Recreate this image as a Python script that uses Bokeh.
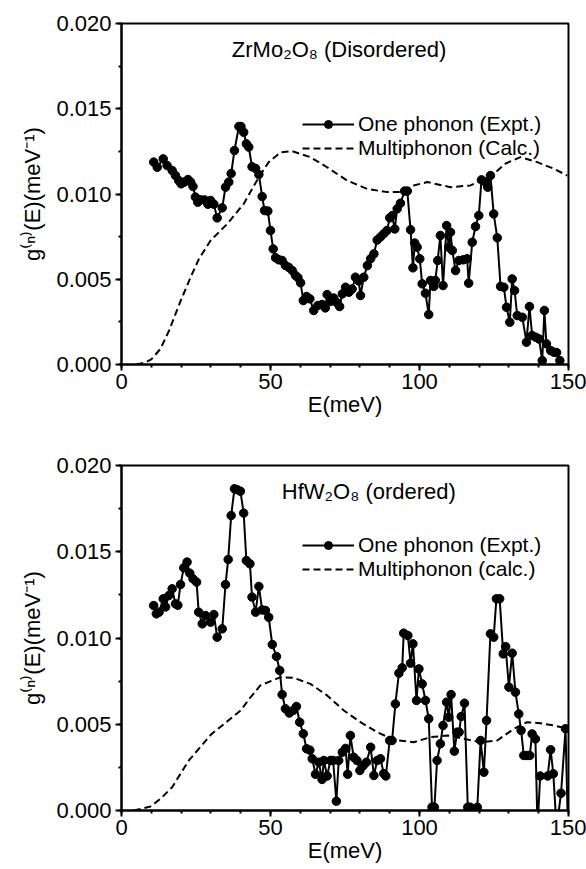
from bokeh.plotting import figure
from bokeh.models import (ColumnDataSource, Range1d, SingleIntervalTicker, NumeralTickFormatter,
                          Legend, LegendItem, Label)
from bokeh.layouts import column
from bokeh.embed import file_html
from bokeh.resources import INLINE

# ---------------- data (g in units of 1e-3 meV^-1) ----------------
top_one_E = [10.8, 12.0, 14.0, 15.3, 17.0, 18.1, 19.2, 20.0, 21.1, 22.3, 23.2, 24.0, 24.8, 25.6, 26.5, 27.9,
             29.0, 29.9, 31.0, 32.1, 33.8, 34.9, 36.0, 36.8, 37.9, 39.4, 40.1, 41.0, 41.9, 42.7, 43.8, 45.0,
             46.1, 47.2, 48.0, 49.1, 50.0, 50.9, 51.7, 52.8, 53.9, 55.0, 56.1, 57.3, 58.4, 59.2, 60.1, 61.0,
             62.1, 63.2, 64.5, 65.9, 67.3, 68.4, 69.0, 70.1, 71.2, 72.3, 73.2, 74.1, 75.2, 76.3, 77.4, 78.5,
             79.6, 80.2, 81.3, 82.5, 83.6, 84.7, 85.8, 86.9, 88.0, 89.1, 90.0, 90.8, 91.7, 92.5, 93.6, 95.0,
             95.9, 97.0, 97.8, 98.4, 99.2, 100.1, 100.9, 102.0, 103.1, 103.7, 104.8, 105.3, 106.1, 107.0, 107.9,
             109.1, 109.8, 110.4, 111.0, 112.1, 113.2, 114.7, 116.0, 116.5, 117.7, 118.8, 119.9, 120.8, 122.1,
             122.9, 123.8, 124.9, 126.1, 127.2, 128.3, 129.2, 130.3, 131.1, 131.9, 132.8, 134.5, 135.9, 136.9,
             137.8, 139.0, 140.1, 141.2, 141.9, 142.6, 144.0, 145.1, 146.0, 147.1]
top_one_g = [11.87, 11.57, 12.06, 11.67, 11.38, 11.09, 10.79, 10.6, 10.7, 10.85, 10.7, 10.44, 9.82, 9.52, 9.66, 9.65,
             9.4, 9.62, 9.4, 8.6, 9.19, 10.4, 10.7, 11.2, 12.55, 13.96, 13.96, 13.62, 12.94, 12.75, 11.6, 11.5,
             11.14, 9.85, 9.03, 9.0, 7.86, 6.78, 6.26, 6.14, 6.1, 5.81, 5.7, 5.51, 5.22, 5.1, 4.79, 3.75,
             3.99, 3.85, 3.17, 3.46, 3.52, 3.32, 4.1, 3.7, 3.9, 3.62, 3.4, 4.14, 4.53, 4.24, 4.43, 5.12,
             4.9, 4.05, 5.12, 5.8, 6.2, 6.49, 7.3, 7.48, 7.67, 7.86, 8.6, 8.73, 7.95, 9.13, 9.46, 10.17,
             10.17, 7.9, 5.67, 7.12, 6.88, 6.2, 4.73, 4.18, 2.93, 4.93, 4.58, 4.93, 6.1, 7.57, 4.63,
             8.15, 6.88, 7.76, 6.69, 5.51, 6.1, 6.14, 6.2, 4.77, 7.17, 8.09, 8.74, 10.83, 10.7,
             10.4, 11.08, 8.83, 7.43, 4.58, 4.53, 3.36, 2.48, 5.02, 4.34, 2.87, 2.77, 1.31, 3.4,
             1.7, 1.6, 1.5, 0.23, 3.17, 1.21, 0.82, 0.72, 0.7, 0.23]

top_multi_E = [5.0, 8.0, 10.0, 13.0, 16.0, 20.0, 23.2, 26.0, 29.9, 35.5, 41.0, 46.1, 49.4, 53.4, 57.3, 63.4,
               69.0, 75.7, 82.4, 89.2, 93.6, 98.1, 102.6, 110.4, 117.1, 120.5, 124.9, 129.0, 133.9, 139.5,
               145.1, 149.6]
top_multi_g = [0.0, 0.12, 0.3, 0.9, 2.0, 3.8, 5.12, 6.2, 7.27, 8.25, 9.42, 10.99, 11.87, 12.45, 12.51, 12.16,
               11.57, 10.79, 10.3, 10.11, 10.11, 10.5, 10.7, 10.4, 10.5, 10.79, 11.18, 11.8, 12.16, 11.87,
               11.48, 11.08]

bot_one_E = [10.8, 11.7, 12.6, 14.0, 14.8, 15.9, 17.0, 18.1, 18.9, 19.8, 20.9, 22.0, 22.9, 24.0, 25.2, 25.9,
             27.1, 28.2, 29.9, 31.0, 32.1, 33.8, 34.9, 35.8, 36.8, 37.9, 38.8, 39.9, 41.0, 41.9, 43.1, 43.8,
             45.0, 46.1, 47.2, 48.3, 49.4, 50.6, 52.0, 53.1, 53.9, 55.0, 56.3, 57.6, 58.7, 59.8, 61.0, 62.1,
             63.2, 64.0, 65.1, 66.2, 67.3, 67.9, 69.0, 70.1, 71.0, 72.1, 72.9, 74.1, 75.2, 75.9, 76.8, 77.9,
             79.0, 80.0, 81.1, 82.2, 83.6, 84.7, 85.8, 86.9, 88.0, 88.7, 90.0, 90.8, 91.9, 93.1, 94.2, 94.7,
             96.1, 97.0, 97.8, 99.0, 99.8, 100.9, 102.0, 103.1, 104.2, 105.0, 105.9, 107.0, 107.9, 109.1, 109.8,
             110.6, 111.7, 112.6, 113.3, 114.0, 115.1, 116.2, 117.0, 117.8, 119.4, 120.5, 121.6, 122.5, 123.8,
             124.9, 125.8, 126.9, 128.1, 128.9, 130.0, 131.1, 132.2, 133.3, 134.1, 135.0, 136.1, 137.0, 137.8,
             138.9, 139.6, 140.5, 143.0, 144.0, 144.9, 146.0, 147.5, 149.0, 149.8]
bot_one_g = [11.88, 11.4, 11.5, 12.27, 11.8, 12.46, 12.85, 11.98, 11.9, 13.1, 14.07, 14.4, 13.76, 13.43, 13.24, 11.5,
             10.82, 11.3, 10.92, 11.36, 10.05, 10.53, 13.1, 14.55, 17.1, 18.65, 18.6, 18.51, 17.24, 14.49, 14.3, 12.37,
             11.5, 12.99, 11.63, 11.6, 11.2, 9.62, 8.93, 8.12, 6.72, 5.9, 5.65, 5.8, 6.03, 5.12, 4.45, 3.58,
             3.5, 3.0, 2.1, 2.8, 1.8, 2.9, 2.0, 2.9, 2.9, 0.54, 2.9, 3.38, 3.6, 2.1, 4.35, 3.09,
             2.9, 2.32, 2.6, 2.8, 3.67, 2.03, 2.9, 3.0, 2.14, 2.0, 4.06, 4.06, 6.18, 7.96, 8.27, 10.28,
             10.14, 8.54, 9.66, 6.38, 8.21, 7.34, 6.38, 5.32, 0.19, 0.19, 2.9, 3.87, 4.93, 6.28, 5.41,
             6.72, 3.44, 4.54, 4.54, 5.45, 6.22, 0.19, 0.19, -1.0, 0.19, 4.06, 2.22, 5.22, 10.24,
             10.05, 12.27, 12.27, 9.08, 9.5, 7.15, 9.12, 6.86, 5.6, 4.64, 3.19, 3.19, 3.19, 4.44,
             4.15, -1.0, 2.0, 2.0, 3.52, 2.13, -1.0, 1.0, 4.74, -1.0]

bot_multi_E = [4.1, 9.7, 13.1, 17.0, 19.8, 22.6, 30.0, 35.0, 40.0, 43.0, 46.6, 53.4, 57.8, 63.4, 69.0, 74.6,
               80.2, 85.8, 91.4, 98.1, 103.7, 109.3, 114.9, 120.5, 126.1, 131.7, 136.1, 140.6, 145.1, 149.6]
bot_multi_g = [0.0, 0.23, 0.68, 1.35, 2.13, 2.9, 4.4, 5.1, 5.8, 6.5, 7.25, 7.73, 7.69, 7.34, 6.67, 5.8,
               5.12, 4.54, 4.1, 3.96, 4.25, 4.35, 4.16, 3.96, 4.06, 4.74, 5.12, 5.06, 4.93, 4.74]

x_ticks_interval = 50
y_ticks_interval = 0.005

FONT = "Liberation Sans"


def make_panel(one_E, one_g, multi_E, multi_g, title, multi_label, height, top_border, bottom_border,
               legend_loc, title_xy):
    p = figure(width=586, height=height, output_backend="svg", toolbar_location=None,
               x_range=Range1d(0, 150), y_range=Range1d(0, 0.02),
               min_border_left=121, min_border_right=18,
               min_border_top=top_border, min_border_bottom=bottom_border)
    p.background_fill_color = "white"
    p.border_fill_color = "white"
    p.xgrid.visible = False
    p.ygrid.visible = False
    p.outline_line_color = "black"
    p.outline_line_width = 2

    p.xaxis.ticker = SingleIntervalTicker(interval=x_ticks_interval, num_minor_ticks=5)
    p.yaxis.ticker = SingleIntervalTicker(interval=y_ticks_interval, num_minor_ticks=2)
    p.yaxis.formatter = NumeralTickFormatter(format="0.000")
    for ax in (p.xaxis[0], p.yaxis[0]):
        ax.axis_line_width = 2
        ax.major_tick_line_width = 2
        ax.minor_tick_line_width = 2
        ax.major_tick_out = 6
        ax.major_tick_in = 0
        ax.minor_tick_out = 3
        ax.minor_tick_in = 0
        ax.major_label_text_font = FONT
        ax.major_label_text_font_size = "22px"
        ax.major_label_text_color = "black"
        ax.axis_label_text_font = FONT
        ax.axis_label_text_font_size = "22px"
        ax.axis_label_text_font_style = "normal"
        ax.axis_label_text_color = "black"
    p.xaxis.axis_label = "E(meV)"
    p.yaxis.axis_label = "g\u207d\u207f\u207e(E)(meV\u207b\u00b9)"
    p.xaxis.major_label_standoff = 3
    p.xaxis.axis_label_standoff = 0
    p.yaxis.major_label_standoff = 4
    p.yaxis.axis_label_standoff = 8

    one_src = ColumnDataSource(dict(E=one_E, g=[v * 1e-3 for v in one_g]))
    multi_src = ColumnDataSource(dict(E=multi_E, g=[v * 1e-3 for v in multi_g]))

    multi_r = p.line("E", "g", source=multi_src, line_color="black", line_width=2, line_dash="7 4")
    one_line = p.line("E", "g", source=one_src, line_color="black", line_width=2)
    one_pts = p.scatter("E", "g", source=one_src, size=8.5, fill_color="black", line_color="black")

    legend = Legend(items=[LegendItem(label="One phonon (Expt.)", renderers=[one_line, one_pts]),
                           LegendItem(label=multi_label, renderers=[multi_r])],
                    location=legend_loc, orientation="vertical")
    legend.glyph_width = 52
    legend.glyph_height = 20
    legend.spacing = -1
    legend.padding = 0
    legend.margin = 0
    legend.label_standoff = 4
    legend.label_text_font = FONT
    legend.label_text_font_size = "21px"
    legend.label_text_color = "black"
    legend.border_line_color = None
    legend.background_fill_alpha = 0
    p.add_layout(legend)

    p.add_layout(Label(x=title_xy[0], y=title_xy[1], text=title,
                       text_font=FONT, text_font_size="22px", text_color="black",
                       text_align="center", text_baseline="middle"))
    return p


p1 = make_panel(top_one_E, top_one_g, top_multi_E, top_multi_g,
                "ZrMo\u2082O\u2088 (Disordered)", "Multiphonon (Calc.)", 434, 23, 70,
                (181, 204), (73, 0.0185))

p2 = make_panel(bot_one_E, bot_one_g, bot_multi_E, bot_multi_g,
                "HfW\u2082O\u2088 (ordered)", "Multiphonon (calc.)", 435, 31, 59,
                (181, 229), (83, 0.0185))

layout = column(p1, p2, spacing=0)
open("out.html", "w").write(file_html(layout, INLINE))
